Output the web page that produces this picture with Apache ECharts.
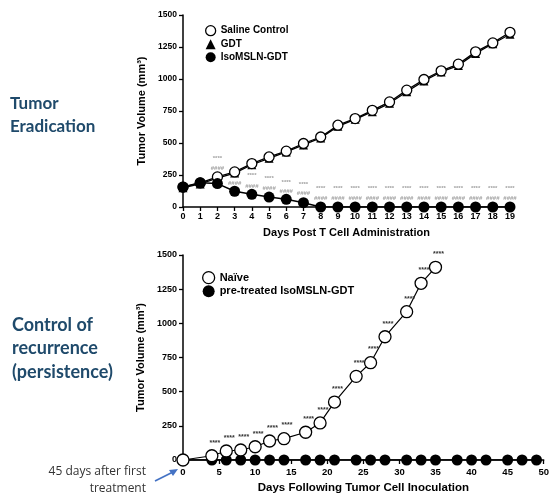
<!DOCTYPE html>
<html><head><meta charset="utf-8">
<script src="https://cdn.jsdelivr.net/npm/echarts@6/dist/echarts.min.js"></script>
<style>html,body{margin:0;padding:0;background:#fff}#c{width:552px;height:502px}</style>
</head><body><div id="c"></div>
<script>
// ---- Top chart data ----
const topDays = [0,1,2,3,4,5,6,7,8,9,10,11,12,13,14,15,16,17,18,19];
const salineVals = [156,188,235,274,339,391,436,496,547,639,691,755,821,913,996,1064,1116,1212,1282,1365];
const gdtVals    = [150,180,225,265,330,380,430,485,540,630,685,745,810,900,985,1055,1105,1200,1275,1350];
const isoVals    = [156,190,183,123,99,78,60,34,0,0,0,0,0,0,0,0,0,0,0,0];
const annotDays  = [2,3,4,5,6,7,8,9,10,11,12,13,14,15,16,17,18,19];
const starVals   = [381,263,248,224,193,178,146,146,146,146,146,146,146,146,146,146,146,146];
const hashVals   = [303,185,162,146,123,107,68,68,68,68,68,68,68,68,68,68,68,68];

// ---- Bottom chart data ----
const naiveDays = [0,4,6,8,10,12,14,17,19,21,24,26,28,31,33,35];
const naiveVals = [0,31,66,73,97,139,156,203,271,424,612,712,902,1085,1293,1410];
const preDays   = [0,4,6,8,10,12,14,17,19,21,24,26,28,31,33,35,38,40,42,45,47,49];
const preVals   = [0,0,0,0,0,0,0,0,0,0,0,0,0,0,0,0,0,0,0,0,0,0];

const FONT = 'Liberation Sans';
const chart = echarts.init(document.getElementById('c'));
const zip = (xs, ys) => xs.map((x,i)=>[x, ys[i]]);
const plain = (v) => String(v);

const axisCommon = {
  axisLine:{show:true, lineStyle:{color:'#000', width:1.5}},
  axisTick:{show:true, length:4, lineStyle:{color:'#000', width:1.3}},
  splitLine:{show:false},
  nameTextStyle:{fontFamily:FONT, fontWeight:'bold', fontSize:11, color:'#000'}
};

chart.setOption({
  animation:false,
  backgroundColor:'#fff',
  grid:[
    {left:183, top:15, width:327, height:192},
    {left:183, top:255, width:361, height:205}
  ],
  xAxis:[
    Object.assign({}, axisCommon, {gridIndex:0, type:'value', min:0, max:19, interval:1,
      name:'Days Post T Cell Administration', nameLocation:'middle', nameGap:20,
      axisLabel:{fontFamily:FONT, fontWeight:'bold', fontSize:9, color:'#000', margin:5, formatter:plain}}),
    Object.assign({}, axisCommon, {gridIndex:1, type:'value', min:0, max:50, interval:5,
      name:'Days Following Tumor Cell Inoculation', nameLocation:'middle', nameGap:22,
      nameTextStyle:{fontFamily:FONT, fontWeight:'bold', fontSize:11.5, color:'#000'},
      axisLabel:{fontFamily:FONT, fontWeight:'bold', fontSize:9.5, color:'#000', margin:7, formatter:plain}})
  ],
  yAxis:[
    Object.assign({}, axisCommon, {gridIndex:0, type:'value', min:0, max:1500, interval:250,
      name:'Tumor Volume (mm³)', nameLocation:'middle', nameGap:27,
      axisLabel:{fontFamily:FONT, fontWeight:'bold', fontSize:8.5, color:'#000', margin:6, formatter:plain}}),
    Object.assign({}, axisCommon, {gridIndex:1, type:'value', min:0, max:1500, interval:250,
      name:'Tumor Volume (mm³)', nameLocation:'middle', nameGap:29,
      axisLabel:{fontFamily:FONT, fontWeight:'bold', fontSize:9, color:'#000', margin:6, formatter:plain}})
  ],
  legend:[
    {orient:'vertical', left:200, top:20, itemWidth:10, itemHeight:10, itemGap:3,
     textStyle:{fontFamily:FONT, fontWeight:'bold', fontSize:10, color:'#000'},
     data:[
      {name:'Saline Control', icon:'circle', itemStyle:{color:'#fff', borderColor:'#000', borderWidth:1.3}},
      {name:'GDT', icon:'triangle', itemStyle:{color:'#000'}},
      {name:'IsoMSLN-GDT', icon:'circle', itemStyle:{color:'#000'}}
     ]},
    {orient:'vertical', left:197, top:266, itemWidth:12, itemHeight:12, itemGap:1,
     textStyle:{fontFamily:FONT, fontWeight:'bold', fontSize:11, color:'#000'},
     data:[
      {name:'Naïve', icon:'circle', itemStyle:{color:'#fff', borderColor:'#000', borderWidth:1.3}},
      {name:'pre-treated IsoMSLN-GDT', icon:'circle', itemStyle:{color:'#000'}}
     ]}
  ],
  series:[
    {name:'stars', type:'scatter', xAxisIndex:0, yAxisIndex:0, z:1, symbolSize:0, silent:true,
     data: zip(annotDays, starVals),
     label:{show:true, position:'inside', formatter:'****', fontFamily:FONT, fontWeight:'bold', fontSize:6, color:'#888'}},
    {name:'hashes', type:'scatter', xAxisIndex:0, yAxisIndex:0, z:1, symbolSize:0, silent:true,
     data: zip(annotDays, hashVals),
     label:{show:true, position:'inside', formatter:'####', fontFamily:FONT, fontWeight:'bold', fontSize:6, color:'#888'}},
    {name:'GDT', type:'line', xAxisIndex:0, yAxisIndex:0, z:2, symbol:'triangle', symbolSize:9,
     data: zip(topDays, gdtVals), lineStyle:{color:'#000', width:1.3}, itemStyle:{color:'#000'}},
    {name:'Saline Control', type:'line', xAxisIndex:0, yAxisIndex:0, z:3, symbol:'circle', symbolSize:10,
     data: zip(topDays, salineVals), lineStyle:{color:'#000', width:1.3},
     itemStyle:{color:'#fff', borderColor:'#000', borderWidth:1.3}},
    {name:'IsoMSLN-GDT', type:'line', xAxisIndex:0, yAxisIndex:0, z:4, symbol:'circle', symbolSize:11,
     data: zip(topDays, isoVals), lineStyle:{color:'#000', width:1.5}, itemStyle:{color:'#000'}},
    {name:'pre-treated IsoMSLN-GDT', type:'line', xAxisIndex:1, yAxisIndex:1, z:3, symbol:'circle', symbolSize:11,
     data: zip(preDays, preVals), lineStyle:{color:'#000', width:1.5}, itemStyle:{color:'#000'}},
    {name:'Naïve', type:'line', xAxisIndex:1, yAxisIndex:1, z:4, symbol:'circle', symbolSize:12,
     data: zip(naiveDays, naiveVals), lineStyle:{color:'#000', width:1.2},
     itemStyle:{color:'#fff', borderColor:'#000', borderWidth:1.3},
     label:{show:true, position:'top', offset:[3,2], fontFamily:FONT, fontWeight:'bold', fontSize:7, color:'#333',
       formatter:(p)=> p.dataIndex>0 ? '****' : ''}}
  ],
  graphic:[
    {type:'text', left:10, top:92, style:{text:'Tumor\nEradication', font:'bold 17px Lato', fill:'#1f4a6b', lineHeight:23}},
    {type:'text', left:12, top:313, style:{text:'Control of\nrecurrence\n(persistence)', font:'bold 18px Lato', fill:'#1f4a6b', lineHeight:23.5}},
    {type:'text', x:146, y:472, style:{text:'45 days after first', font:'12px "Open Sans"', fill:'#333', textAlign:'right', textVerticalAlign:'middle'}},
    {type:'text', x:146, y:489, style:{text:'treatment', font:'12px "Open Sans"', fill:'#333', textAlign:'right', textVerticalAlign:'middle'}},
    {type:'line', shape:{x1:155, y1:481, x2:173, y2:472}, style:{stroke:'#4472c4', lineWidth:1.6}},
    {type:'polygon', shape:{points:[[178,469],[169,470],[173,476]]}, style:{fill:'#4472c4'}}
  ]
});
</script></body></html>
